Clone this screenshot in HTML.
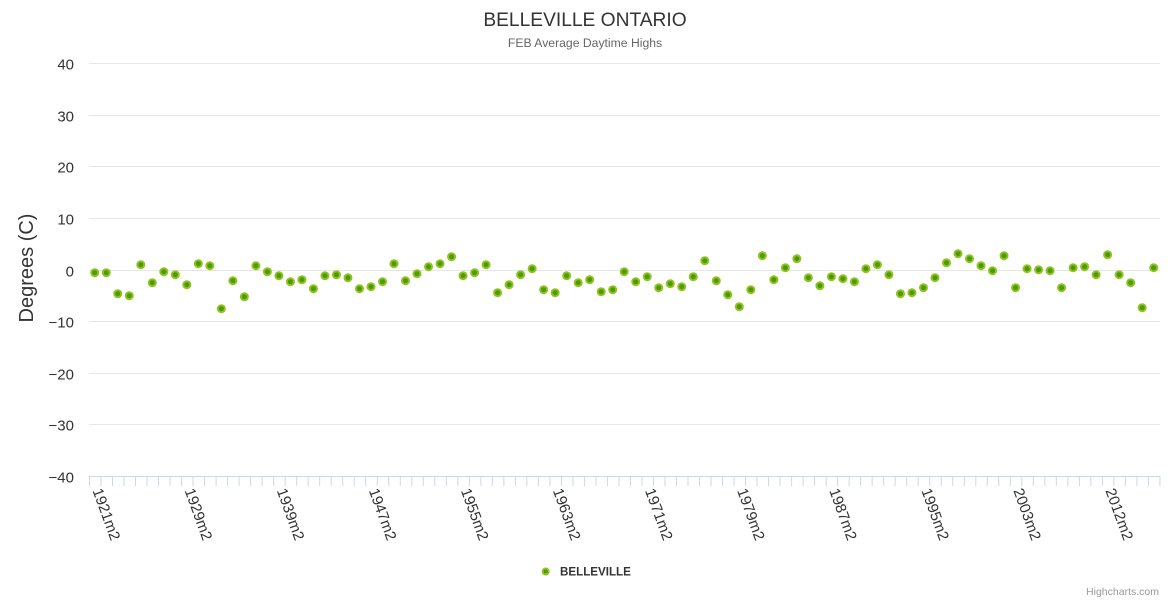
<!DOCTYPE html>
<html>
<head>
<meta charset="utf-8">
<style>
html,body{margin:0;padding:0;background:#fff;}
svg{display:block;font-family:"Liberation Sans",Arial,sans-serif;}
</style>
</head>
<body>
<svg width="1170" height="600" viewBox="0 0 1170 600" xmlns="http://www.w3.org/2000/svg">
<defs>
<marker id="dot" markerUnits="userSpaceOnUse" markerWidth="12" markerHeight="12" refX="6" refY="6" viewBox="0 0 12 12">
<circle cx="6" cy="6" r="3.5" fill="#4c9a00" stroke="#8fc31f" stroke-width="2"/>
</marker>
<pattern id="tk" patternUnits="userSpaceOnUse" x="89" y="476" width="11.51" height="10">
<rect x="0" y="0" width="1" height="10" fill="#ccd6eb"/>
</pattern>
</defs>
<rect x="0" y="0" width="1170" height="600" fill="#ffffff"/>
<text x="585" y="26" text-anchor="middle" font-size="19.2" fill="#333333">BELLEVILLE ONTARIO</text>
<text x="585" y="47" text-anchor="middle" font-size="12.2" fill="#666666">FEB Average Daytime Highs</text>
<path d="M89 63.5H1160M89 115.5H1160M89 166.5H1160M89 218.5H1160M89 270.5H1160M89 321.5H1160M89 373.5H1160M89 424.5H1160" stroke="#e6e6e6" stroke-width="1" fill="none"/>
<g font-size="15" fill="#333333" text-anchor="end">
<text x="74" y="69.5">40</text>
<text x="74" y="121.5">30</text>
<text x="74" y="172.5">20</text>
<text x="74" y="224.5">10</text>
<text x="74" y="276.5">0</text>
<text x="74" y="327.5">−10</text>
<text x="74" y="379.5">−20</text>
<text x="74" y="430.5">−30</text>
<text x="74" y="482.5">−40</text>
</g>
<text transform="translate(33,268) rotate(-90)" text-anchor="middle" font-size="20" fill="#333333">Degrees (C)</text>
<rect x="89" y="476" width="1072" height="10" fill="url(#tk)"/>
<path d="M89 476.5H1160" stroke="#ccd6eb" stroke-width="1"/>
<g font-size="15" fill="#333333">
<text transform="translate(92.4,490.5) rotate(70)">1921m2</text>
<text transform="translate(184.5,490.5) rotate(70)">1929m2</text>
<text transform="translate(276.6,490.5) rotate(70)">1939m2</text>
<text transform="translate(368.7,490.5) rotate(70)">1947m2</text>
<text transform="translate(460.8,490.5) rotate(70)">1955m2</text>
<text transform="translate(552.8,490.5) rotate(70)">1963m2</text>
<text transform="translate(644.9,490.5) rotate(70)">1971m2</text>
<text transform="translate(737.0,490.5) rotate(70)">1979m2</text>
<text transform="translate(829.1,490.5) rotate(70)">1987m2</text>
<text transform="translate(921.2,490.5) rotate(70)">1995m2</text>
<text transform="translate(1013.2,490.5) rotate(70)">2003m2</text>
<text transform="translate(1105.3,490.5) rotate(70)">2012m2</text>
</g>
<path fill="none" stroke="none" marker-start="url(#dot)" marker-mid="url(#dot)" marker-end="url(#dot)" d="M94.75 272.7 L106.26 272.7 L117.77 293.7 L129.28 295.7 L140.79 264.7 L152.3 282.7 L163.81 271.7 L175.32 274.7 L186.83 284.7 L198.34 263.7 L209.85 265.7 L221.36 308.7 L232.87 280.7 L244.38 296.7 L255.89 265.7 L267.4 271.7 L278.91 275.7 L290.42 281.7 L301.93 279.7 L313.44 288.7 L324.95 275.7 L336.46 274.7 L347.97 277.7 L359.48 288.7 L370.99 286.7 L382.5 281.7 L394.01 263.7 L405.52 280.7 L417.03 273.7 L428.54 266.7 L440.05 263.7 L451.56 256.7 L463.07 275.7 L474.58 272.7 L486.09 264.7 L497.6 292.7 L509.11 284.7 L520.62 274.7 L532.13 268.7 L543.64 289.7 L555.15 292.7 L566.66 275.7 L578.17 282.7 L589.68 279.7 L601.19 291.7 L612.7 289.7 L624.21 271.7 L635.72 281.7 L647.23 276.7 L658.74 287.7 L670.25 283.7 L681.76 286.7 L693.27 276.7 L704.78 260.7 L716.29 280.7 L727.8 294.7 L739.31 306.7 L750.82 289.7 L762.33 255.7 L773.84 279.7 L785.35 267.7 L796.86 258.7 L808.37 277.7 L819.88 285.7 L831.39 276.7 L842.9 278.7 L854.41 281.7 L865.92 268.7 L877.43 264.7 L888.94 274.7 L900.45 293.7 L911.96 292.7 L923.47 287.7 L934.98 277.7 L946.49 262.7 L958.0 253.7 L969.51 258.7 L981.02 265.7 L992.53 270.7 L1004.04 255.7 L1015.55 287.7 L1027.06 268.7 L1038.57 269.7 L1050.08 270.7 L1061.59 287.7 L1073.1 267.7 L1084.61 266.7 L1096.12 274.7 L1107.63 254.7 L1119.14 274.7 L1130.65 282.7 L1142.16 307.7 L1153.67 267.7"/>
<circle cx="545.7" cy="571.5" r="3" fill="#4c9a00" stroke="#8fc31f" stroke-width="2"/>
<text x="560" y="575.7" font-size="11.6" font-weight="bold" fill="#333333">BELLEVILLE</text>
<text x="1159" y="595" text-anchor="end" font-size="10.5" fill="#999999">Highcharts.com</text>
</svg>
</body>
</html>
